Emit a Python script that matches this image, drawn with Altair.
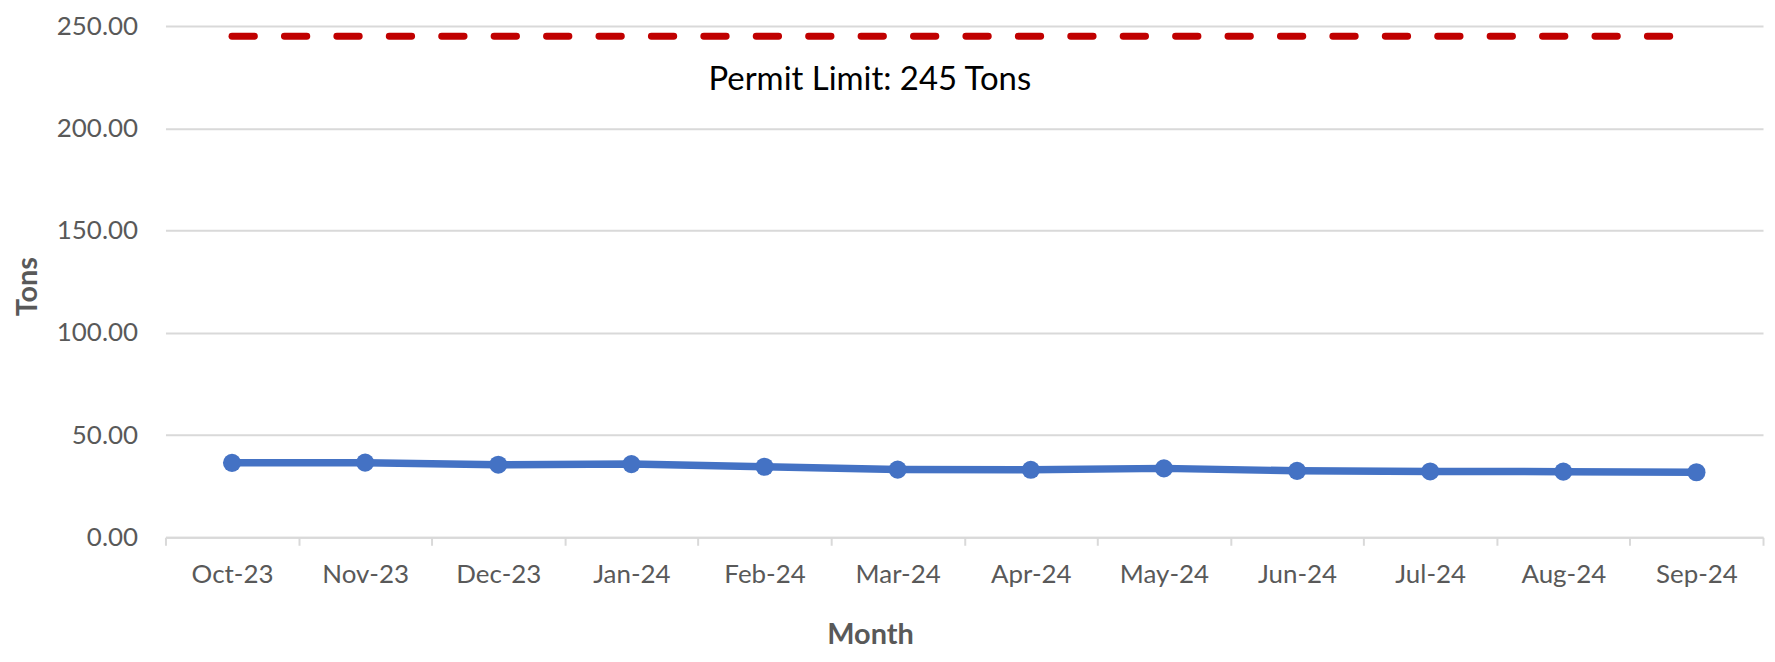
import altair as alt
import pandas as pd

months = ["Oct-23", "Nov-23", "Dec-23", "Jan-24", "Feb-24", "Mar-24",
          "Apr-24", "May-24", "Jun-24", "Jul-24", "Aug-24", "Sep-24"]
tons = [36.4, 36.5, 35.5, 35.8, 34.5, 33.1, 33.0, 33.7, 32.5, 32.2, 32.1, 31.8]
permit_limit = 245
permit_label = "Permit Limit: 245 Tons"
label_month = "Mar-24"
y_ticks = [0, 50, 100, 150, 200, 250]

df = pd.DataFrame({"Month": months, "Tons": tons})
limit_df = pd.DataFrame({"Month": [months[0], months[-1]], "Tons": [permit_limit, permit_limit]})
label_df = pd.DataFrame({"Month": [label_month], "Tons": [permit_limit], "label": [permit_label]})

FONT = "Lato"
GRID = "#D9D9D9"
TXT = "#595959"

x_scale = alt.Scale(domain=months, type="band", paddingInner=0, paddingOuter=0)
y_scale = alt.Scale(domain=[0, 250], nice=False, zero=True)

x_axis = alt.Axis(
    title="Month", tickBand="extent", grid=False,
    domainColor=GRID, domainWidth=2, tickColor=GRID, tickWidth=2, tickSize=8,
    labelFont=FONT, labelFontSize=26, labelColor=TXT, labelPadding=16, labelAngle=0,
    titleFont=FONT, titleFontSize=29, titleFontWeight="bold", titleColor=TXT,
    titleX=707, titleY=107, titleAlign="center", titleBaseline="alphabetic",
)
y_axis = alt.Axis(
    title="Tons", values=y_ticks, format=".2f", domain=False, ticks=False, tickSize=0,
    gridColor=GRID, gridWidth=2,
    labelFont=FONT, labelFontSize=26, labelColor=TXT, labelPadding=28,
    titleFont=FONT, titleFontSize=29, titleFontWeight="bold", titleColor=TXT,
    titleAngle=270, titleX=-129, titleY=261, titleAlign="center", titleBaseline="alphabetic",
)

X = alt.X("Month:N", scale=x_scale, axis=x_axis, sort=months, bandPosition=0.5)
Y = alt.Y("Tons:Q", scale=y_scale, axis=y_axis)

line = alt.Chart(df).mark_line(color="#4472C4", strokeWidth=7.5).encode(x=X, y=Y)
pts = alt.Chart(df).mark_circle(size=330, color="#4472C4", opacity=1).encode(x=X, y=Y)
limit = alt.Chart(limit_df).mark_line(
    color="#C00000", strokeWidth=7, strokeDash=[22.4, 30.2], strokeCap="round"
).encode(x=X, y=Y)
label = alt.Chart(label_df).mark_text(
    font=FONT, fontSize=33, color="black", dx=-28, dy=54,
    baseline="alphabetic", align="center"
).encode(x=X, y=Y, text="label:N")

chart = alt.layer(limit, line, pts, label).properties(
    width=1603, height=513,
    autosize=alt.AutoSizeParams(type="none"),
    padding={"left": 158, "top": 17, "right": 4, "bottom": 116},
).configure_view(stroke=None)

chart.save("out.html", embed_options={"renderer": "svg", "actions": False})
